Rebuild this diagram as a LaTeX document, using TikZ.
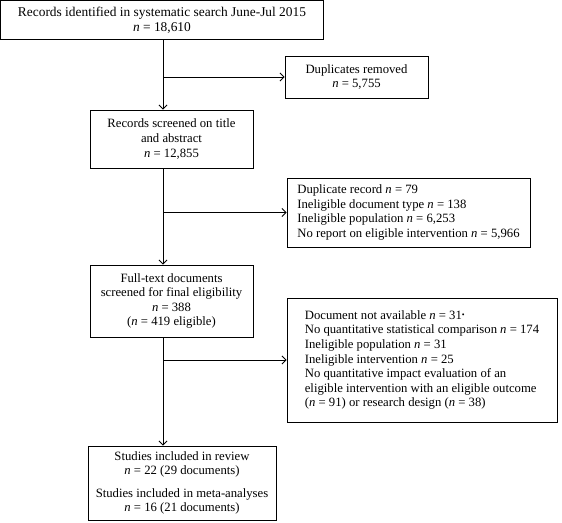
\documentclass[tikz,border=0pt]{standalone}
\usepackage{fontspec}
\setmainfont{Liberation Serif}
\usetikzlibrary{arrows.meta, positioning}

\begin{document}
\begin{tikzpicture}[
    x=1pt, y=-1pt,
    flowbox/.style={draw, line width=0.9pt, align=center, inner sep=2pt,
                    font=\fontsize{12.7}{14.6}\selectfont},
    exclbox/.style={flowbox, align=left},
    flowarrow/.style={-{Straight Barb[length=4pt,width=8pt]}, line width=0.9pt},
]
    \useasboundingbox (0,0) rectangle (562,522);
    \node[flowbox, minimum width=323pt, minimum height=39pt,
          font=\fontsize{13.4}{15}\selectfont] (search) at (162,20) {
        Records identified in systematic search June-Jul 2015\\
        \textit{n} = 18,610
    };
    \node[flowbox, minimum width=143pt, minimum height=42pt] (dup) at (356.5,77) {
        Duplicates removed\\
        \textit{n} = 5,755
    };
    \node[flowbox, minimum width=163pt, minimum height=58pt] (screen) at (171.5,139) {
        Records screened on title\\
        and abstract\\
        \textit{n} = 12,855
    };
    \node[exclbox, minimum width=243pt, minimum height=69pt] (exclone) at (408.5,212.5) {
        Duplicate record \textit{n} = 79\\
        Ineligible document type \textit{n} = 138\\
        Ineligible population \textit{n} = 6,253\\
        No report on eligible intervention \textit{n} = 5,966
    };
    \node[flowbox, minimum width=163pt, minimum height=72pt] (fulltext) at (171.5,301) {
        Full-text documents\\
        screened for final eligibility\\
        \textit{n} = 388\\
        (\textit{n} = 419 eligible)
    };
    \node[exclbox, minimum width=270pt, minimum height=124pt] (excltwo) at (422,360) {
        Document not available \textit{n} = 31\raisebox{0.3ex}{\footnotesize\textbullet}\\
        No quantitative statistical comparison \textit{n} = 174\\
        Ineligible population \textit{n} = 31\\
        Ineligible intervention \textit{n} = 25\\
        No quantitative impact evaluation of an\\
        eligible intervention with an eligible outcome\\
        (\textit{n} = 91) or research design (\textit{n} = 38)
    };
    \node[flowbox, minimum width=188pt, minimum height=74pt] (included) at (182,483) {
        Studies included in review\\
        \textit{n} = 22 (29 documents)\\[8pt]
        Studies included in meta-analyses\\
        \textit{n} = 16 (21 documents)
    };
    \coordinate (spine) at (163,0);
    \coordinate (bdup) at (163,77);
    \coordinate (bone) at (163,212.5);
    \coordinate (btwo) at (163,360);
    \draw[flowarrow] (spine |- search.south) -- (spine |- screen.north);
    \draw[flowarrow] (spine |- screen.south) -- (spine |- fulltext.north);
    \draw[flowarrow] (spine |- fulltext.south) -- (spine |- included.north);
    \draw[flowarrow] (bdup) -- (bdup -| dup.west);
    \draw[flowarrow] (bone) -- (bone -| exclone.west);
    \draw[flowarrow] (btwo) -- (btwo -| excltwo.west);
\end{tikzpicture}
\end{document}
